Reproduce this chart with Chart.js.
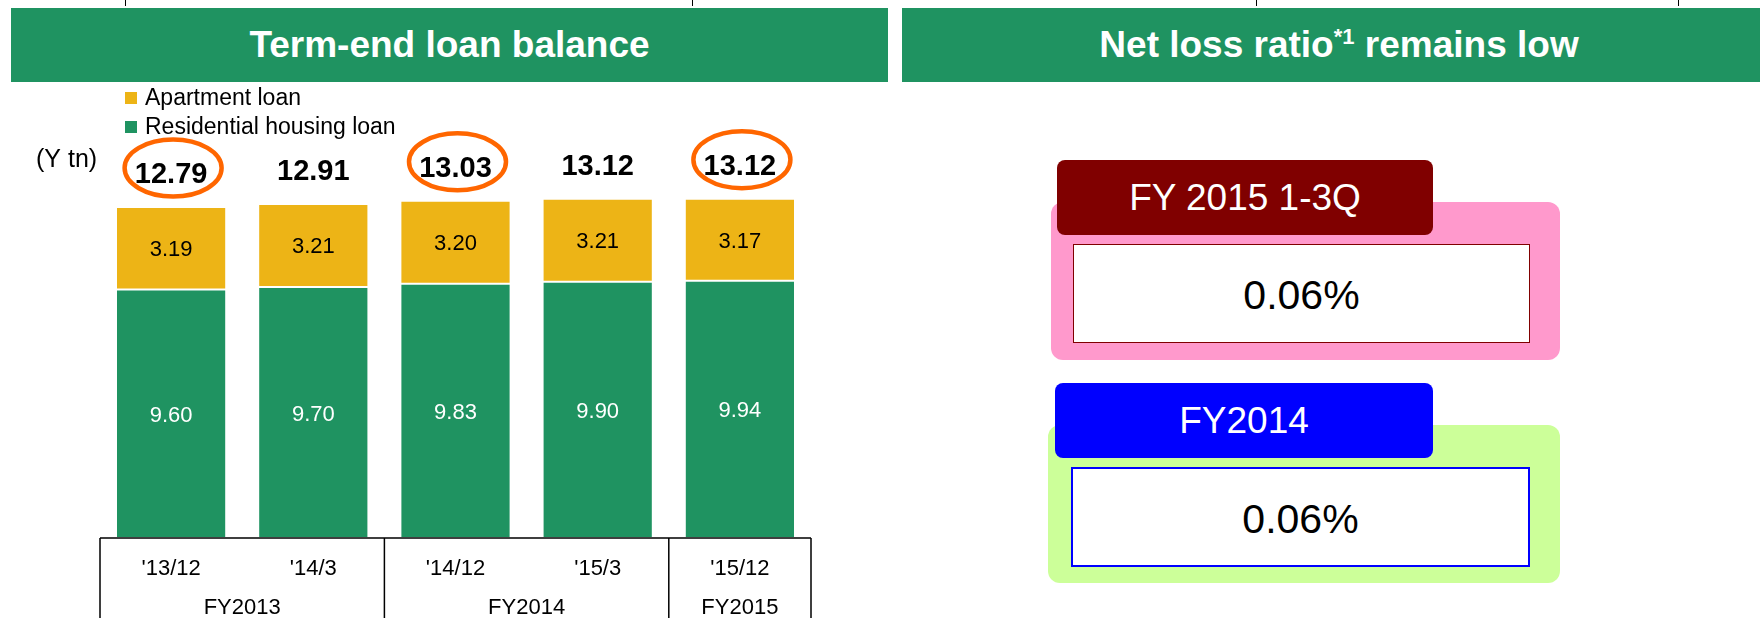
<!DOCTYPE html>
<html>
<head>
<meta charset="utf-8">
<script src="https://cdn.jsdelivr.net/npm/chart.js@4.4.1/dist/chart.umd.min.js"></script>
<style>
  html, body { margin: 0; padding: 0; background: #fff; }
  body { width: 1760px; height: 618px; position: relative; overflow: hidden; font-family: 'Liberation Sans', Arial, sans-serif; }
  .abs { position: absolute; box-sizing: border-box; }
  .banner { background: #1F9361; color: #fff; font-weight: bold; font-size: 37px; text-align: center; height: 74px; line-height: 74px; top: 8px; }
  .tick { width: 1px; height: 6px; top: 0; background: #000; }
  .tab { color: #fff; font-size: 37px; text-align: center; border-radius: 8px; height: 75px; line-height: 75px; }
  .frame { border-radius: 12px; }
  .value { background: #fff; font-size: 41px; text-align: center; color: #000; }
  #chartBox { position: absolute; left: 0; top: 0; width: 890px; height: 618px; }
</style>
</head>
<body>
<div class="abs tick" style="left:125px"></div>
<div class="abs tick" style="left:692px"></div>
<div class="abs tick" style="left:1256px"></div>
<div class="abs tick" style="left:1678px"></div>

<div class="abs banner" style="left:11px; width:877px;">Term-end loan balance</div>
<div class="abs banner" style="left:902px; width:858px; padding-left:16px;">Net loss ratio<span style="font-size:22px; position:relative; top:-13px;">*1</span> remains low</div>

<div id="chartBox"><canvas id="loanChart"></canvas></div>

<!-- Net loss ratio panels -->
<div class="abs frame" style="left:1051px; top:202px; width:509px; height:158px; background:#FF99CC;"></div>
<div class="abs tab" style="left:1057px; top:160px; width:376px; background:#800000;">FY 2015 1-3Q</div>
<div class="abs value" style="left:1073px; top:244px; width:457px; height:99px; line-height:101px; border:1px solid #800000;">0.06%</div>

<div class="abs frame" style="left:1048px; top:425px; width:512px; height:158px; background:#CCFF99;"></div>
<div class="abs tab" style="left:1055px; top:383px; width:378px; background:#0000FF;">FY2014</div>
<div class="abs value" style="left:1071px; top:467px; width:459px; height:100px; line-height:100px; border:2px solid #0000FF;">0.06%</div>

<script>
const categories = ["'13/12", "'14/3", "'14/12", "'15/3", "'15/12"];
const fiscalYears = ['FY2013', 'FY2014', 'FY2015'];
const groupSizes = [2, 2, 1];
const residential = [9.60, 9.70, 9.83, 9.90, 9.94];
const apartment = [3.19, 3.21, 3.20, 3.21, 3.17];
const totals = [12.79, 12.91, 13.03, 13.12, 13.12];
const circled = [true, false, true, false, true];

const GREEN = '#1F9361';
const YELLOW = '#EDB416';
const FONT = "'Liberation Sans', Arial, sans-serif";

Chart.defaults.font.family = FONT;

// legend, unit, segment values, totals with rings
const overlayPlugin = {
    id: 'overlay',
    afterDatasetsDraw(chart) {
        const ctx = chart.ctx;
        ctx.save();

        // legend (top dataset first, like the slide)
        const order = chart.data.datasets.map((d, i) => i).reverse();
        ctx.font = '23px ' + FONT;
        ctx.textAlign = 'left';
        ctx.textBaseline = 'alphabetic';
        order.forEach((di, row) => {
            const ds = chart.data.datasets[di];
            ctx.fillStyle = ds.backgroundColor;
            ctx.fillRect(125, 92 + row * 29, 12, 12);
            ctx.fillStyle = '#000';
            ctx.fillText(ds.label, 145, 105 + row * 29);
        });

        ctx.font = '25px ' + FONT;
        ctx.fillText('(Y tn)', 36, 167);

        // values inside segments
        ctx.textAlign = 'center';
        ctx.font = '22px ' + FONT;
        chart.data.datasets.forEach((ds, di) => {
            const meta = chart.getDatasetMeta(di);
            meta.data.forEach((bar, i) => {
                const mid = (bar.y + bar.base) / 2;
                ctx.fillStyle = ds.labelColor;
                ctx.fillText(ds.data[i].toFixed(2), bar.x, mid + 8);
            });
        });

        // totals
        const topMeta = chart.getDatasetMeta(chart.data.datasets.length - 1);
        ctx.font = 'bold 29px ' + FONT;
        topMeta.data.forEach((bar, i) => {
            const base = bar.y - 24;
            ctx.fillStyle = '#000';
            ctx.fillText(totals[i].toFixed(2), bar.x, base);
            if (circled[i]) {
                ctx.strokeStyle = '#FF6600';
                ctx.lineWidth = 4.5;
                ctx.beginPath();
                ctx.ellipse(bar.x + 2, base - 15, 48.5, 28.5, 0, 0, Math.PI * 2);
                ctx.stroke();
            }
        });
        ctx.restore();
    }
};

// period / fiscal year table under the bars
const tablePlugin = {
    id: 'periodTable',
    afterDraw(chart) {
        const { ctx, chartArea } = chart;
        const x = chart.scales.x;
        const step = x.getPixelForValue(1) - x.getPixelForValue(0);
        const left = x.getPixelForValue(0) - step / 2;
        const right = x.getPixelForValue(categories.length - 1) + step / 2;
        const y0 = chartArea.bottom;

        ctx.save();
        ctx.strokeStyle = '#000';
        ctx.lineWidth = 1.5;
        ctx.beginPath();
        ctx.moveTo(left, y0);
        ctx.lineTo(right, y0);
        const edges = [left];
        let idx = 0;
        groupSizes.forEach(n => {
            idx += n;
            edges.push(x.getPixelForValue(idx - 1) + step / 2);
        });
        edges.forEach(ex => {
            ctx.moveTo(ex, y0);
            ctx.lineTo(ex, chart.height);
        });
        ctx.stroke();

        ctx.fillStyle = '#000';
        ctx.textAlign = 'center';
        ctx.font = '22px ' + FONT;
        categories.forEach((c, i) => {
            ctx.fillText(c, x.getPixelForValue(i), y0 + 37);
        });
        fiscalYears.forEach((fy, g) => {
            ctx.fillText(fy, (edges[g] + edges[g + 1]) / 2, y0 + 76);
        });
        ctx.restore();
    }
};

new Chart(document.getElementById('loanChart'), {
    type: 'bar',
    data: {
        labels: categories,
        datasets: [
            { label: 'Residential housing loan', data: residential, backgroundColor: GREEN, labelColor: '#fff' },
            { label: 'Apartment loan', data: apartment, backgroundColor: YELLOW, labelColor: '#000' }
        ]
    },
    options: {
        responsive: true,
        maintainAspectRatio: false,
        animation: false,
        devicePixelRatio: 1,
        layout: { padding: { left: 100, right: 79, top: 124, bottom: 80 } },
        datasets: {
            bar: { barPercentage: 0.775, categoryPercentage: 1, borderWidth: 1, borderColor: '#fff', borderSkipped: false }
        },
        scales: {
            x: { display: false, stacked: true },
            y: { display: false, stacked: true, min: 0, max: 16 }
        },
        plugins: {
            legend: { display: false },
            tooltip: { enabled: false }
        }
    },
    plugins: [overlayPlugin, tablePlugin]
});
</script>
</body>
</html>
